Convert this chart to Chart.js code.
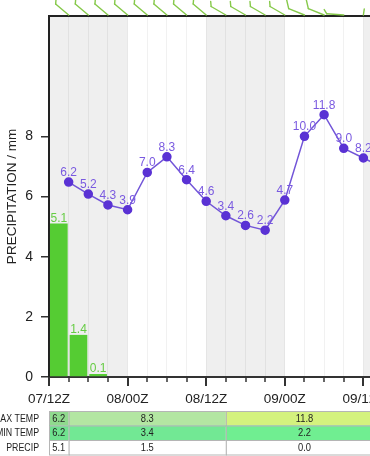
<!DOCTYPE html>
<html><head><meta charset="utf-8">
<script src="https://cdn.jsdelivr.net/npm/chart.js@4/dist/chart.umd.min.js"></script>
<style>
html,body{margin:0;padding:0;background:#fff;overflow:hidden;width:370px;height:456px;}
canvas{display:block;}
</style></head><body>
<canvas id="c" width="450" height="456"></canvas>
<script>
// ---- data (hours after 07/12Z) ----
const tempHours  = [3,6,9,12,15,18,21,24,27,30,33,36,39,42,45,48,51];
const tempValues = [6.2,5.2,4.3,3.9,7.0,8.3,6.4,4.6,3.4,2.6,2.2,4.7,10.0,11.8,9.0,8.2,7.4];
const precipHours  = [1.5,4.5,7.5,10.5,13.5,16.5,19.5,22.5,25.5,28.5,31.5,34.5,37.5,40.5,43.5,46.5,49.5];
const precipValues = [5.1,1.4,0.1,0,0,0,0,0,0,0,0,0,0,0,0,0,0];
const tickLabels = ['07/12Z','08/00Z','08/12Z','09/00Z','09/12Z','10/00Z'];
const windHours = [3,6,9,12,15,18,21,24,27,30,33,36,39,42,45,48];
const windDir   = [310,310,310,310,310,310,310,310,300,300,300,300,292,292,274,8];
const windSpeed = [10,10,10,10,10,10,10,10,5,5,5,5,10,10,5,2];
const nightStart = [0,24,48];
const nightEnd   = [12,36,60];
const dayStart = [0,3,27];
const dayEnd   = [3,27,51];
const rowLabels = ['MAX TEMP','MIN TEMP','PRECIP'];
const maxTemp   = ['6.2','8.3','11.8'];
const minTemp   = ['6.2','3.4','2.2'];
const dayPrecip = ['5.1','1.5','0.0'];
// ---- styles ----
const maxColors = ['#90da8e','#b3e6a2','#d4f27e'];
const minColors = ['#6fe28e','#72e894','#70ee91'];
const precipColors = ['#ffffff','#ffffff','#ffffff'];

Chart.defaults.font.family = '"Liberation Sans", Arial, sans-serif';

function narrowText(ctx, text, x, y, align, sx){
  const w = ctx.measureText(text).width*sx;
  let left = align==='right' ? x-w : (align==='center' ? x-w/2 : x);
  ctx.save();
  ctx.translate(left, y);
  ctx.scale(sx,1);
  ctx.textAlign='left';
  ctx.fillText(text,0,0);
  ctx.restore();
}

const shadePlugin = {
  id:'shade',
  beforeDraw(chart){
    const {ctx, chartArea:a, scales:{x}} = chart;
    ctx.save();
    ctx.fillStyle = '#efefef';
    for(let i=0;i<nightStart.length;i++){
      const x1 = Math.max(a.left, x.getPixelForValue(nightStart[i]));
      const x2 = Math.min(a.right, x.getPixelForValue(nightEnd[i]));
      if(x2>x1) ctx.fillRect(x1, a.top, x2-x1, a.bottom-a.top);
    }
    ctx.restore();
  }
};

const labelPlugin = {
  id:'labels',
  afterDatasetsDraw(chart){
    const ctx = chart.ctx;
    ctx.save();
    ctx.textAlign = 'center';
    ctx.textBaseline = 'alphabetic';
    ctx.font = '12px "Liberation Sans", Arial, sans-serif';
    ctx.fillStyle = '#66cc44';
    chart.getDatasetMeta(0).data.forEach((el,i)=>{
      if(precipValues[i]>0) ctx.fillText(precipValues[i].toFixed(1), el.x, el.y-2);
    });
    ctx.fillStyle = '#7a5ae0';
    chart.getDatasetMeta(1).data.forEach((el,i)=>{
      ctx.fillText(tempValues[i].toFixed(1), el.x, el.y-6);
    });
    ctx.restore();
  }
};

const decoPlugin = {
  id:'deco',
  afterDraw(chart){
    const {ctx, chartArea:a, scales:{x}} = chart;
    ctx.save();
    ctx.strokeStyle = '#222';
    ctx.lineWidth = 2;
    ctx.beginPath();
    ctx.moveTo(a.left-1, a.top); ctx.lineTo(a.right, a.top); ctx.lineTo(a.right, a.bottom);
    ctx.stroke();
    // x tick marks
    ctx.strokeStyle = '#333';
    for(let h=0; h<=60; h+=3){
      const px = Math.round(x.getPixelForValue(h));
      const major = h%12===0;
      ctx.lineWidth = major?2:1.5;
      ctx.beginPath();
      ctx.moveTo(px, a.bottom);
      ctx.lineTo(px, a.bottom + (major?9:5));
      ctx.stroke();
    }
    // wind barbs
    ctx.strokeStyle = '#86c94a';
    ctx.lineWidth = 1.4;
    ctx.lineCap = 'round';
    windHours.forEach((h,i)=>{
      const px = x.getPixelForValue(h);
      const py = a.top - 1;
      const d = windDir[i]*Math.PI/180;
      const sp = windSpeed[i];
      const L = sp<3 ? 6 : 17;
      const ux = Math.sin(d), uy = -Math.cos(d);
      const tx = px + ux*L, ty = py + uy*L;
      ctx.beginPath(); ctx.moveTo(px,py); ctx.lineTo(tx,ty); ctx.stroke();
      const phi = Math.atan2(uy,ux) + 55*Math.PI/180;
      let full = Math.floor(sp/10), half = (sp%10)>=5;
      let k = 0;
      for(let f=0; f<full; f++,k++){
        const bx = tx - ux*k*3, by = ty - uy*k*3;
        ctx.beginPath(); ctx.moveTo(bx,by); ctx.lineTo(bx+Math.cos(phi)*10, by+Math.sin(phi)*10); ctx.stroke();
      }
      if(half){
        const bx = tx - ux*k*3, by = ty - uy*k*3;
        ctx.beginPath(); ctx.moveTo(bx,by); ctx.lineTo(bx+Math.cos(phi)*5, by+Math.sin(phi)*5); ctx.stroke();
      }
    });
    // table
    const top = 411, rh = 14.5;
    const rows = [maxTemp, minTemp, dayPrecip];
    const cols = [maxColors, minColors, precipColors];
    ctx.lineCap = 'butt';
    ctx.font = '11px "Liberation Sans", Arial, sans-serif';
    ctx.textBaseline = 'middle';
    for(let r=0;r<3;r++){
      const y = top + r*rh;
      ctx.fillStyle = '#222';
      narrowText(ctx, rowLabels[r], 39, y+rh/2+0.5, 'right', 0.8);
      for(let j=0;j<dayStart.length;j++){
        const x1 = x.getPixelForValue(dayStart[j]);
        const x2 = x.getPixelForValue(dayEnd[j]);
        ctx.fillStyle = cols[r][j];
        ctx.fillRect(x1, y, x2-x1, rh);
        ctx.strokeStyle = '#b5b5b5';
        ctx.lineWidth = 1;
        ctx.strokeRect(x1+0.5, y+0.5, x2-x1, rh);
        ctx.fillStyle = '#222';
        narrowText(ctx, rows[r][j], (x1+x2)/2, y+rh/2+0.5, 'center', 0.85);
      }
    }
    ctx.restore();
  }
};

new Chart(document.getElementById('c'), {
  type:'bar',
  data:{
    datasets:[
      {
        type:'bar',
        data: precipHours.map((h,i)=>({x:h, y:precipValues[i]})),
        backgroundColor:'#55cc33',
        borderWidth:0,
        barPercentage:0.9,
        categoryPercentage:1.0,
        yAxisID:'y', order:2
      },
      {
        type:'line',
        data: tempHours.map((h,i)=>({x:h, y:tempValues[i]})),
        borderColor:'#7255d8',
        borderWidth:1.5,
        pointBackgroundColor:'#5a32d4',
        pointBorderColor:'#5a32d4',
        pointRadius:4,
        tension:0,
        yAxisID:'yT', order:1
      }
    ]
  },
  options:{
    responsive:false,
    animation:false,
    devicePixelRatio:1,
    layout:{padding:{top:16,right:8,bottom:0,left:0}},
    plugins:{legend:{display:false}, tooltip:{enabled:false}},
    scales:{
      x:{
        type:'linear', min:0, max:60, offset:false,
        grid:{offset:false, color:'rgba(0,0,0,0.055)', drawTicks:false},
        border:{display:true, color:'#333', width:2},
        ticks:{stepSize:3, autoSkip:false, maxRotation:0, padding:14,
               font:{size:13.5}, color:'#222',
               callback:v=> (v%12===0 ? (tickLabels[v/12]||'') : '')},
        afterFit:s=>{s.height = 79; s.paddingRight = 0; s.paddingLeft = 0;}
      },
      y:{
        min:0, max:12,
        grid:{drawOnChartArea:false, drawTicks:true, tickLength:8, color:'#333', lineWidth:1.5},
        border:{display:true, color:'#222', width:2},
        ticks:{stepSize:2, padding:8, font:{size:14}, color:'#222'},
        afterBuildTicks:s=>{ s.ticks = s.ticks.filter(t=>t.value<=8); },
        title:{display:true, text:'PRECIPITATION / mm', font:{size:13.5}, color:'#222', padding:{top:4,bottom:0}},
        afterFit:s=>{s.width = 49; s.paddingTop = 0; s.paddingBottom = 0;}
      },
      yT:{ display:false, min:-10, max:20 }
    }
  },
  plugins:[shadePlugin, labelPlugin, decoPlugin]
});
</script>
</body></html>
